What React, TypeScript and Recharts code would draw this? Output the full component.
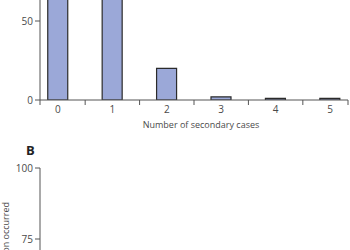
import * as React from "react";
import { BarChart, Bar, XAxis, YAxis, LineChart, Line } from "recharts";

// panel A: distribution of secondary cases
const secondaryCases = [0, 1, 2, 3, 4, 5];
const clusterCounts = [80, 70, 20, 2, 1, 1];
const yTicksA = [0, 50, 100];
const xTicksA = [-0.33, 0, 0.5, 1, 1.5, 2, 2.5, 3, 3.5, 4, 4.5, 5, 5.33];

// panel B: only the upper part of the axis is visible
const yTicksB = [50, 75, 100];
const panelBx = [0, 1];
const panelBy: (number | null)[] = [null, null];

const AXIS = "#555";
const TEXT = "#4a4a4a";
const FONT = "'Open Sans', 'Noto Sans', sans-serif";

const dataA = secondaryCases.map((c, i) => ({ cases: c, count: clusterCounts[i] }));
const dataB = panelBx.map((x, i) => ({ x, y: panelBy[i] }));

function XTick(props: any) {
    const { x, y, payload } = props;
    const v = payload.value;
    if (Number.isInteger(v)) {
        return (
            <text x={x} y={y + 5} textAnchor="middle" fontSize={10} fill={TEXT} fontFamily={FONT}>
                {v}
            </text>
        );
    }
    // boundary marks between the categories
    return <line x1={x} x2={x} y1={y - 8} y2={y - 3} stroke={AXIS} strokeWidth={1} />;
}

export default function App() {
    return (
        <div
            style={{
                position: "absolute",
                left: 0,
                top: 0,
                width: 350,
                height: 250,
                overflow: "hidden",
                background: "#fff",
                fontFamily: FONT,
            }}
        >
            <div style={{ position: "absolute", left: 0, top: -70 }}>
                <BarChart
                    width={362}
                    height={202}
                    data={dataA}
                    margin={{ top: 12, right: 14, bottom: 0, left: 0 }}
                >
                    <XAxis
                        dataKey="cases"
                        type="number"
                        domain={[-0.33, 5.33]}
                        ticks={xTicksA}
                        interval={0}
                        tick={<XTick />}
                        tickLine={false}
                        stroke={AXIS}
                        height={32}
                        allowDataOverflow
                        label={{
                            value: "Number of secondary cases",
                            position: "insideBottom",
                            offset: 4,
                            dx: 7,
                            fontSize: 9,
                            fill: TEXT,
                            fontFamily: FONT,
                        }}
                    />
                    <YAxis
                        domain={[0, 100]}
                        ticks={yTicksA}
                        width={40}
                        tickSize={5}
                        stroke={AXIS}
                        tick={{ fontSize: 10, fill: TEXT, fontFamily: FONT }}
                        allowDataOverflow
                    />
                    <Bar
                        dataKey="count"
                        barSize={20}
                        fill="#9ba8d8"
                        stroke="#2b2b2b"
                        strokeWidth={1.2}
                        isAnimationActive={false}
                    />
                </BarChart>
            </div>

            <div
                style={{
                    position: "absolute",
                    left: 26,
                    top: 141,
                    fontSize: 13,
                    fontWeight: 700,
                    color: "#222",
                }}
            >
                B
            </div>

            <div style={{ position: "absolute", left: 0, top: 158 }}>
                <LineChart
                    width={350}
                    height={160}
                    data={dataB}
                    margin={{ top: 10, right: 10, bottom: 8, left: 0 }}
                >
                    <XAxis dataKey="x" type="number" domain={[0, 1]} hide />
                    <YAxis
                        type="number"
                        domain={[50, 100]}
                        ticks={yTicksB}
                        allowDataOverflow
                        width={40}
                        tickSize={5}
                        stroke={AXIS}
                        tick={{ fontSize: 10, fill: TEXT, fontFamily: FONT }}
                        label={{
                            position: "insideLeft",
                            content: () => (
                                <text
                                    x={9}
                                    y={44}
                                    transform="rotate(-90 9 44)"
                                    textAnchor="end"
                                    fontSize={9}
                                    fill={TEXT}
                                    fontFamily={FONT}
                                >
                                    Probability that transmission occurred
                                </text>
                            ),
                        }}
                    />
                    <Line dataKey="y" stroke="#9ba8d8" dot={false} isAnimationActive={false} />
                </LineChart>
            </div>
        </div>
    );
}
